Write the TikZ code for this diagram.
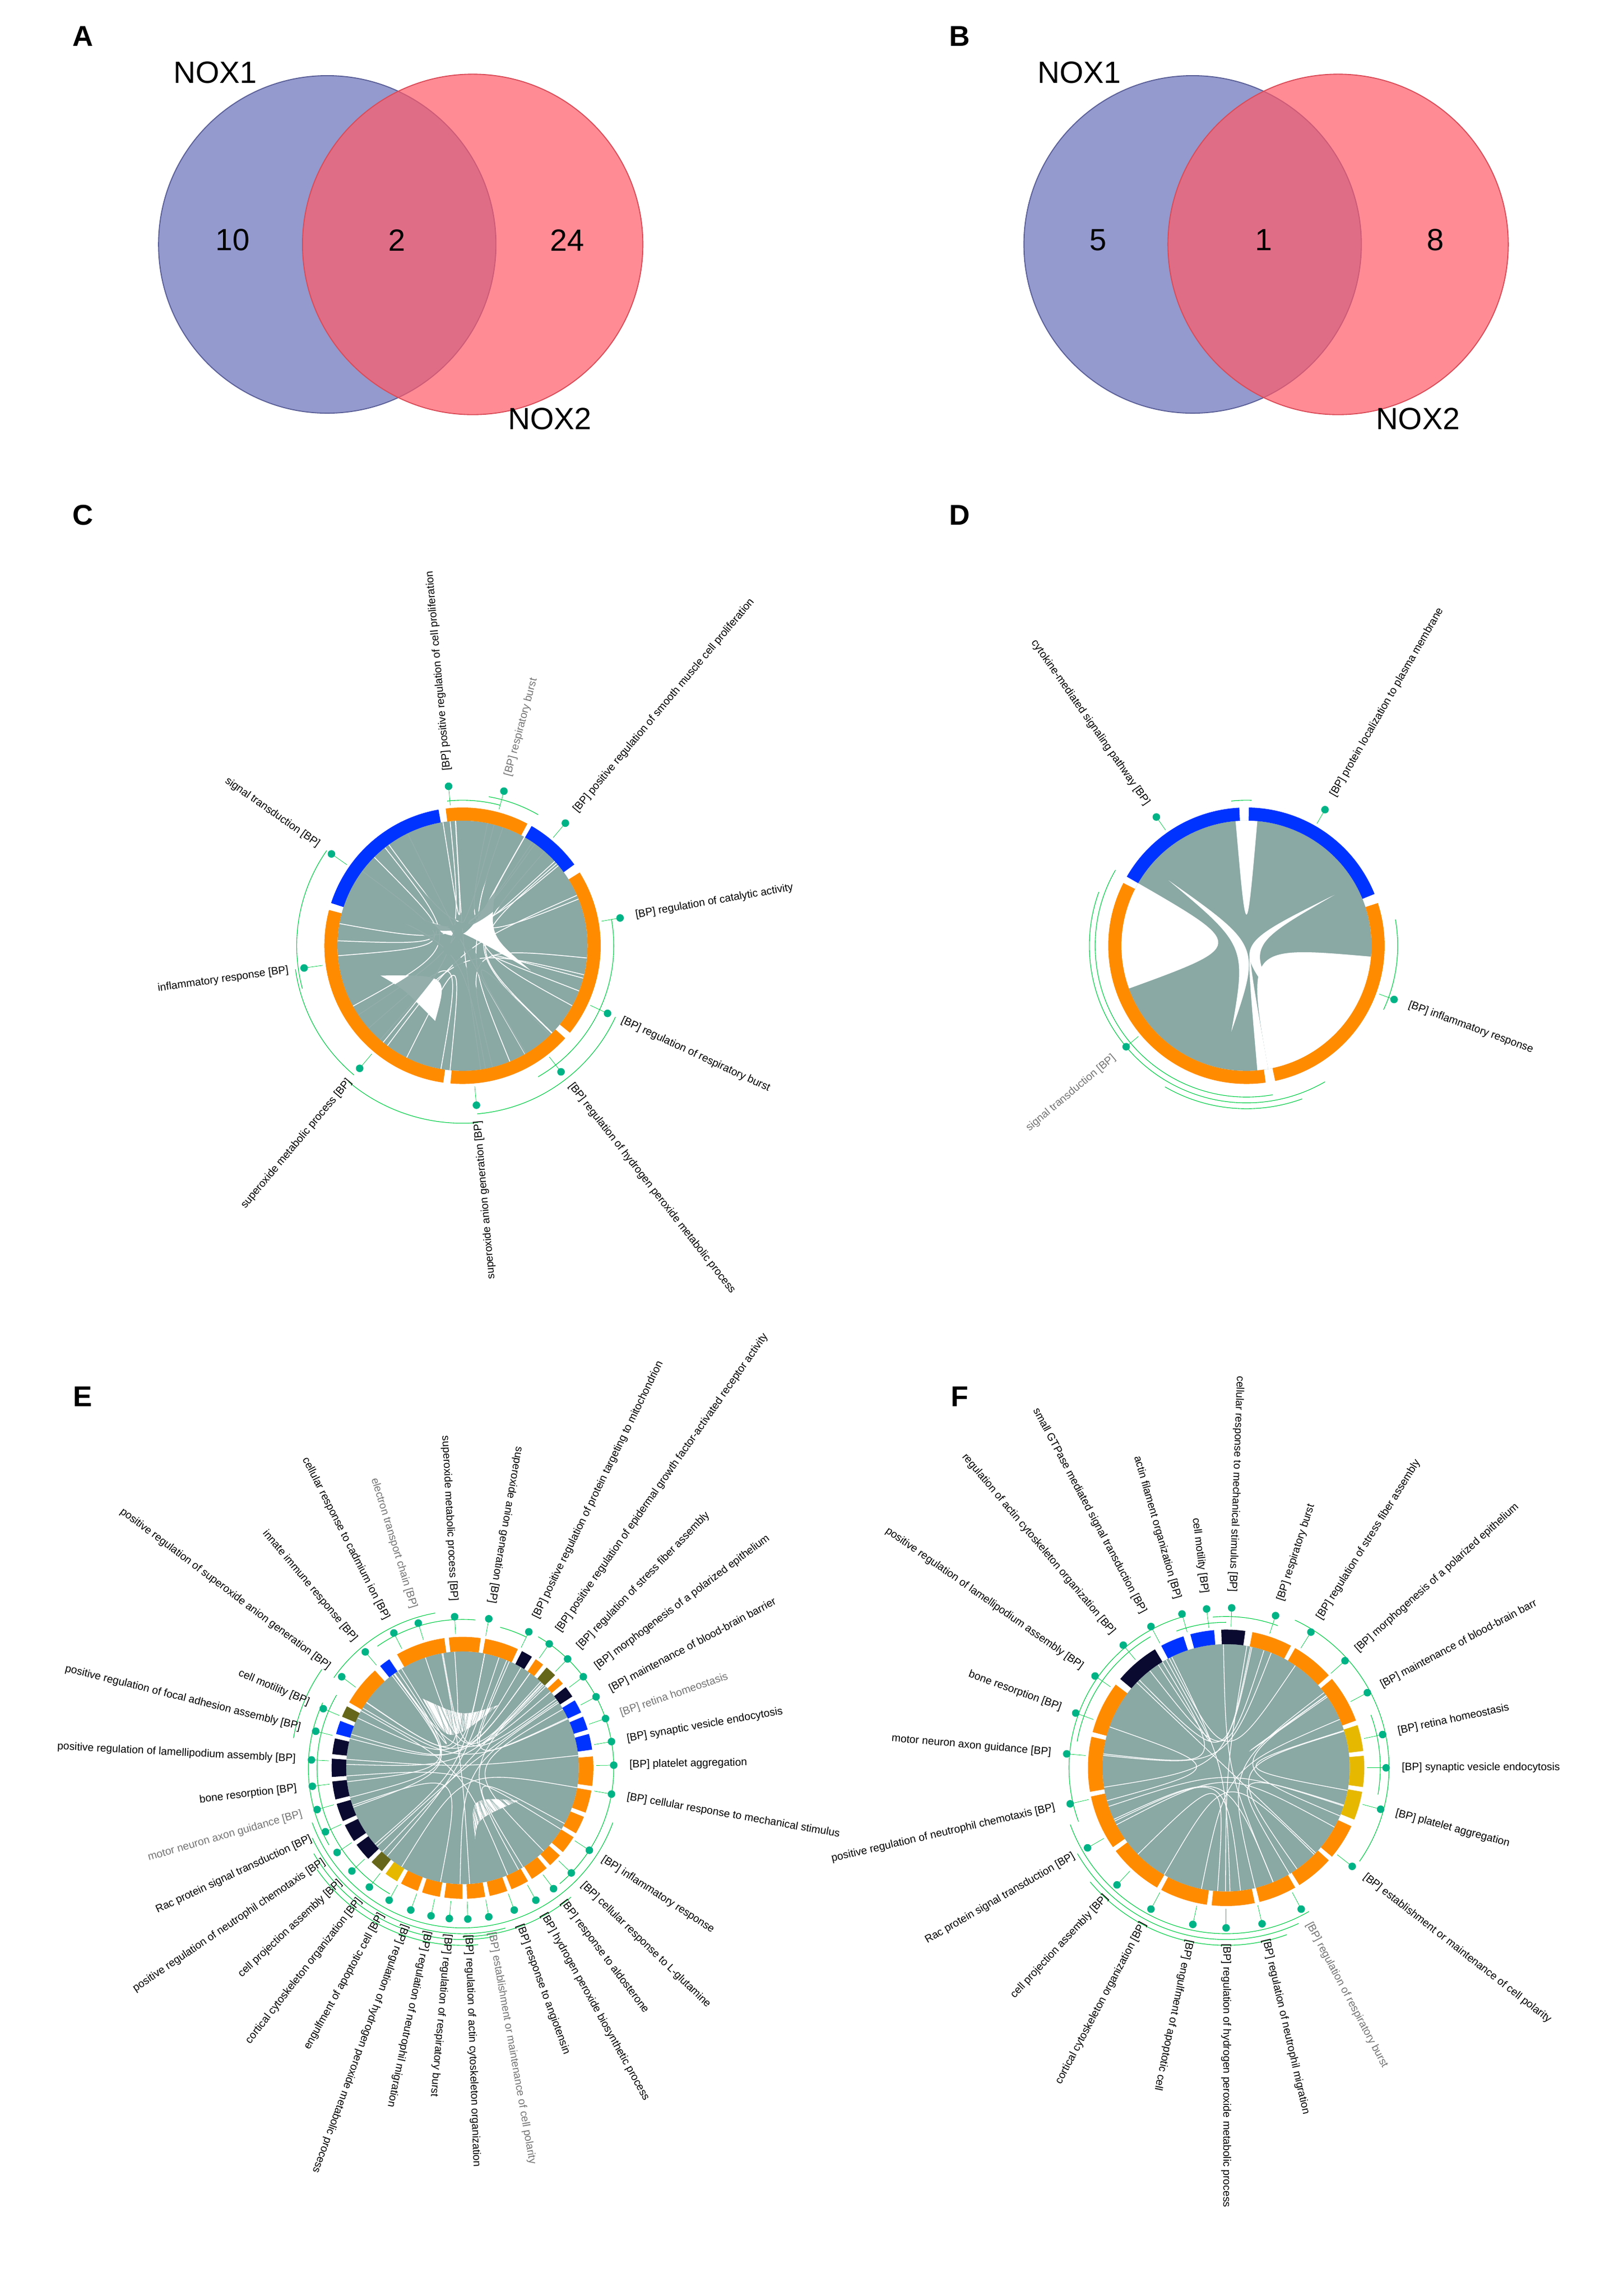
\documentclass[tikz,border=0pt]{standalone}
\usepackage{fontspec}
\setmainfont{Liberation Sans}
\definecolor{cOr}{HTML}{FF8C00}
\definecolor{cBl}{HTML}{0033FF}
\definecolor{cNv}{HTML}{0A0A30}
\definecolor{cOl}{HTML}{66661A}
\definecolor{cGd}{HTML}{E6B800}
\definecolor{cCh}{HTML}{8AA8A4}
\definecolor{cGr}{HTML}{00CC44}
\definecolor{cDt}{HTML}{00B386}
\definecolor{vBl}{HTML}{7077BD}
\definecolor{vRd}{HTML}{FF5A68}
\tikzset{
 lab/.style={font=\fontsize{10.5}{11}\selectfont,inner sep=1pt},
 gr/.style={text=black!55},
 bk/.style={},
 gline/.style={cGr,line width=0.4pt},
 garc/.style={cGr,line width=0.6pt},
 chordfill/.style={fill=cCh,fill opacity=0.92},
 chordline/.style={cCh,line width=0.35pt,opacity=0.8},
 venn/.style={font=\fontsize{30}{32}\selectfont},
 panel/.style={font=\bfseries\fontsize{28}{30}\selectfont}
}
\newcommand\labw[3]{\draw[gline] (#1:\Rr) -- (#1:\Rd); \fill[cDt] (#1:\Rd) circle (2.6);
 \node[lab,#2,anchor=west,rotate=#1] at (#1:\Rl) {#3};}
\newcommand\labe[3]{\draw[gline] (#1:\Rr) -- (#1:\Rd); \fill[cDt] (#1:\Rd) circle (2.6);
 \node[lab,#2,anchor=east,rotate=#1+180] at (#1:\Rl) {#3};}
\newcommand\ribbon[4]{\fill[chordfill] (#1:\Ri) arc[start angle=#1,end angle=#2,radius=\Ri] .. controls (0,0) .. (#3:\Ri) arc[start angle=#3,end angle=#4,radius=\Ri] .. controls (0,0) .. (#1:\Ri) -- cycle;}
\newcommand\segs[1]{\foreach \a/\b/\c in {#1}{\fill[\c] (\a:\Ro) arc[start angle=\a,end angle=\b,radius=\Ro] -- (\b:\Ri) arc[start angle=\b,end angle=\a,radius=\Ri] -- cycle;}}
\newcommand\garcs[1]{\foreach \a/\b/\r in {#1}{\draw[garc] (\a:\r) arc[start angle=\a,end angle=\b,radius=\r];}}
\begin{document}
\begin{tikzpicture}[x=0.05cm,y=0.05cm]
\useasboundingbox (0,0) rectangle (1100,1578);
\pgfmathsetseed{7}
% panel letters
\node[panel] at (57,1553) {A};
\node[panel] at (660,1553) {B};
\node[panel] at (57,1224) {C};
\node[panel] at (660,1224) {D};
\node[panel] at (57,618) {E};
\node[panel] at (660,618) {F};
% Venn A
\fill[vBl,opacity=0.75] (225,1410) circle (116);
\draw[vBl!80!black,line width=1pt] (225,1410) circle (116);
\fill[vRd,opacity=0.7] (325,1410) circle (117);
\draw[vRd!85!black,line width=1pt] (325,1410) circle (117);
\node[venn] at (148,1528) {NOX1};
\node[venn] at (378,1290) {NOX2};
\node[venn] at (160,1413) {10};
\node[venn] at (273,1413) {2};
\node[venn] at (390,1413) {24};
% Venn B
\fill[vBl,opacity=0.75] (820,1410) circle (116);
\draw[vBl!80!black,line width=1pt] (820,1410) circle (116);
\fill[vRd,opacity=0.7] (920,1410) circle (117);
\draw[vRd!85!black,line width=1pt] (920,1410) circle (117);
\node[venn] at (742,1528) {NOX1};
\node[venn] at (975,1290) {NOX2};
\node[venn] at (755,1413) {5};
\node[venn] at (869,1413) {1};
\node[venn] at (987,1413) {8};
% ---------- C ----------
\begin{scope}[shift={(318,928)}]
\def\Ro{95}\def\Ri{86}\def\Rr{97}\def\Rd{110}\def\Rl{120}
\fill[cCh] (0,0) circle (\Ri);
\fill[white] (150:40) .. controls (0,0) .. (60:45) .. controls (20:20) .. (-20:50) .. controls (0,10) .. (150:40);
\fill[white] (200:60) .. controls (-10,-20) .. (250:55) .. controls (-40,-30) .. (200:60);
\foreach \i in {1,...,25}{\pgfmathsetmacro\p{rnd*360}\pgfmathsetmacro\q{rnd*360}
 \draw[white,line width=0.8pt] (\p:\Ri) .. controls (0,0) .. (\q:\Ri);}
\ribbon{110}{125}{300}{315}\ribbon{140}{160}{270}{290}\ribbon{45}{58}{150}{160}\ribbon{210}{230}{70}{85}
\segs{100/162/cBl,165/262/cOr,265/318/cOr,321/392/cOr,36/60/cBl,62/97/cOr}
\garcs{60/80/104,-60/10/104,-85/-25/116,-130/-85/122,-172/-130/116,145/195/114,75/96/100}
\labw{95}{bk}{[BP] positive regulation of cell proliferation}
\labw{75}{gr}{[BP] respiratory burst}
\labw{50}{bk}{[BP] positive regulation of smooth muscle cell proliferation}
\labw{10}{bk}{[BP] regulation of catalytic activity}
\labw{-25}{bk}{[BP] regulation of respiratory burst}
\labw{-52}{bk}{[BP] regulation of hydrogen peroxide metabolic process}
\labe{-85}{bk}{superoxide anion generation [BP]}
\labe{-130}{bk}{superoxide metabolic process [BP]}
\labe{-172}{bk}{inflammatory response [BP]}
\labe{145}{bk}{signal transduction [BP]}
\end{scope}
% ---------- D ----------
\begin{scope}[shift={(857,928)}]
\def\Ro{95}\def\Ri{86}\def\Rr{97}\def\Rd{108}\def\Rl{118}
\fill[cCh] (0,0) circle (\Ri);
\fill[white] (150:\Ri) .. controls (0,0) .. (200:\Ri) arc[start angle=200,end angle=150,radius=\Ri];
\fill[white] (95:\Ri) .. controls (0,0) .. (85:\Ri) arc[start angle=85,end angle=95,radius=\Ri];
\fill[white] (-5:\Ri) .. controls (0,0) .. (-80:\Ri) arc[start angle=-80,end angle=-5,radius=\Ri];
\fill[white] (-30:10) .. controls (0,0) .. (-80:\Ri) -- (-85:\Ri) .. controls (0,0) .. (-30:10);
\fill[white] (140:70) .. controls (10,0) .. (-100:60) .. controls (0,0) .. (140:70);
\fill[white] (30:70) .. controls (-10,0) .. (-60:50) .. controls (0,0) .. (30:70);
\segs{93/150/cBl,22/89/cBl,153/278/cOr,282/378/cOr}
\garcs{150/280/104,160/300/108,240/290/112,-25/10/104,88/96/100}
\labe{125}{bk}{cytokine-mediated signaling pathway [BP]}
\labw{60}{bk}{[BP] protein localization to plasma membrane}
\labw{-20}{bk}{[BP] inflammatory response}
\labe{-140}{gr}{signal transduction [BP]}
\end{scope}
% ---------- E ----------
\begin{scope}[shift={(318,363)}]
\def\Ro{90}\def\Ri{80}\def\Rr{92}\def\Rd{104}\def\Rl{114}
\fill[cCh] (0,0) circle (\Ri);
\fill[white] (120:55) .. controls (-10,15) .. (60:50) .. controls (0,35) .. (120:55);
\fill[white] (-30:45) .. controls (5,-20) .. (-80:50) .. controls (10,-35) .. (-30:45);
\foreach \i in {1,...,160}{\pgfmathsetmacro\p{rnd*360}\pgfmathsetmacro\q{rnd*360}
 \draw[chordline] (\p:\Ri) .. controls (0,0) .. (\q:\Ri);}
\foreach \i in {1,...,30}{\pgfmathsetmacro\p{rnd*360}\pgfmathsetmacro\q{rnd*360}
 \draw[white,line width=0.7pt] (\p:\Ri) .. controls (0,0) .. (\q:\Ri);}
\segs{98/120/cOr,82/96/cOr,65/80/cOr,58/63/cNv,52/56/cOr,45/50/cOl,40/43/cOr,33/38/cNv,25/31/cBl,17/23/cBl,8/15/cBl,-8/5/cOr,-20/-10/cOr,-30/-22/cOr,-40/-32/cOr,-48/-42/cOr,-58/-50/cOr,-68/-60/cOr,-78/-70/cOr,-88/-80/cOr,-98/-90/cOr,-108/-100/cOr,-118/-110/cOr,-126/-120/cGd,-134/-128/cOl,-144/-136/cNv,-154/-146/cNv,-164/-156/cNv,-174/-166/cNv,176/184/cNv,167/174/cNv,159/165/cBl,152/157/cOl,132/150/cOr,124/129/cBl}
\garcs{64/75/100,-50/60/104,-60/-20/110,-90/-50/116,200/300/110,205/285/114,210/280/118,215/275/122,150/240/100,155/210/106,100/145/108,85/125/102,145/170/118}
\labe{80}{bk}{superoxide anion generation [BP]}
\labe{93}{bk}{superoxide metabolic process [BP]}
\labe{107}{gr}{electron transport chain [BP]}
\labe{117}{bk}{cellular response to cadmium ion [BP]}
\labe{130}{bk}{innate immune response [BP]}
\labe{143}{bk}{positive regulation of superoxide anion generation [BP]}
\labe{157}{bk}{cell motility [BP]}
\labe{166}{bk}{positive regulation of focal adhesion assembly [BP]}
\labe{177}{bk}{positive regulation of lamellipodium assembly [BP]}
\labe{187}{bk}{bone resorption [BP]}
\labe{196}{gr}{motor neuron axon guidance [BP]}
\labe{205}{bk}{Rac protein signal transduction [BP]}
\labe{214}{bk}{positive regulation of neutrophil chemotaxis [BP]}
\labe{223}{bk}{cell projection assembly [BP]}
\labe{232}{bk}{cortical cytoskeleton organization [BP]}
\labe{241}{bk}{engulfment of apoptotic cell [BP]}
\labw{250}{bk}{[BP] regulation of hydrogen peroxide metabolic process}
\labw{258}{bk}{[BP] regulation of neutrophil migration}
\labw{265}{bk}{[BP] regulation of respiratory burst}
\labw{272}{bk}{[BP] regulation of actin cytoskeleton organization}
\labw{280}{gr}{[BP] establishment or maintenance of cell polarity}
\labw{290}{bk}{[BP] response to angiotensin}
\labw{299}{bk}{[BP] hydrogen peroxide biosynthetic process}
\labw{307}{bk}{[BP] response to aldosterone}
\labw{316}{bk}{[BP] cellular response to L-glutamine}
\labw{327}{bk}{[BP] inflammatory response}
\labw{350}{bk}{[BP] cellular response to mechanical stimulus}
\labw{1}{bk}{[BP] platelet aggregation}
\labw{10}{bk}{[BP] synaptic vesicle endocytosis}
\labw{19}{gr}{[BP] retina homeostasis}
\labw{28}{bk}{[BP] maintenance of blood-brain barrier}
\labw{37}{bk}{[BP] morphogenesis of a polarized epithelium}
\labw{46}{bk}{[BP] regulation of stress fiber assembly}
\labw{55}{bk}{[BP] positive regulation of epidermal growth factor-activated receptor activity}
\labw{64}{bk}{[BP] positive regulation of protein targeting to mitochondrion}
\end{scope}
% ---------- F ----------
\begin{scope}[shift={(843,363)}]
\def\Ro{95}\def\Ri{85}\def\Rr{97}\def\Rd{110}\def\Rl{120}
\fill[cCh] (0,0) circle (\Ri);
\foreach \i in {1,...,200}{\pgfmathsetmacro\p{rnd*360}\pgfmathsetmacro\q{rnd*360}
 \draw[chordline] (\p:\Ri) .. controls (0,0) .. (\q:\Ri);}
\foreach \i in {1,...,25}{\pgfmathsetmacro\p{rnd*360}\pgfmathsetmacro\q{rnd*360}
 \draw[white,line width=0.7pt] (\p:\Ri) .. controls (0,0) .. (\q:\Ri);}
\segs{82/92/cNv,95/105/cBl,108/118/cBl,121/140/cNv,143/165/cOr,167/190/cOr,192/215/cOr,217/240/cOr,242/262/cOr,264/282/cOr,284/300/cOr,302/318/cOr,320/335/cOr,338/350/cGd,352/365/cGd,367/378/cGd,20/40/cOr,42/60/cOr,62/79/cOr}
\garcs{70/95/104,-35/65/112,-10/20/106,200/300/114,210/295/118,220/290/122,105/200/108,120/170/104,90/110/100}
\labe{88}{bk}{cellular response to mechanical stimulus [BP]}
\labe{97}{bk}{cell motility [BP]}
\labe{106}{bk}{actin filament organization [BP]}
\labe{118}{bk}{small GTPase mediated signal transduction [BP]}
\labe{130}{bk}{regulation of actin cytoskeleton organization [BP]}
\labe{145}{bk}{positive regulation of lamellipodium assembly [BP]}
\labe{160}{bk}{bone resorption [BP]}
\labe{175}{bk}{motor neuron axon guidance [BP]}
\labe{193}{bk}{positive regulation of neutrophil chemotaxis [BP]}
\labe{210}{bk}{Rac protein signal transduction [BP]}
\labe{227}{bk}{cell projection assembly [BP]}
\labe{242}{bk}{cortical cytoskeleton organization [BP]}
\labw{258}{bk}{[BP] engulfment of apoptotic cell}
\labw{270}{bk}{[BP] regulation of hydrogen peroxide metabolic process}
\labw{283}{bk}{[BP] regulation of neutrophil migration}
\labw{298}{gr}{[BP] regulation of respiratory burst}
\labw{322}{bk}{[BP] establishment or maintenance of cell polarity}
\labw{345}{bk}{[BP] platelet aggregation}
\labw{0}{bk}{[BP] synaptic vesicle endocytosis}
\labw{12}{bk}{[BP] retina homeostasis}
\labw{28}{bk}{[BP] maintenance of blood-brain barr}
\labw{42}{bk}{[BP] morphogenesis of a polarized epithelium}
\labw{58}{bk}{[BP] regulation of stress fiber assembly}
\labw{72}{bk}{[BP] respiratory burst}
\end{scope}
\end{tikzpicture}
\end{document}
